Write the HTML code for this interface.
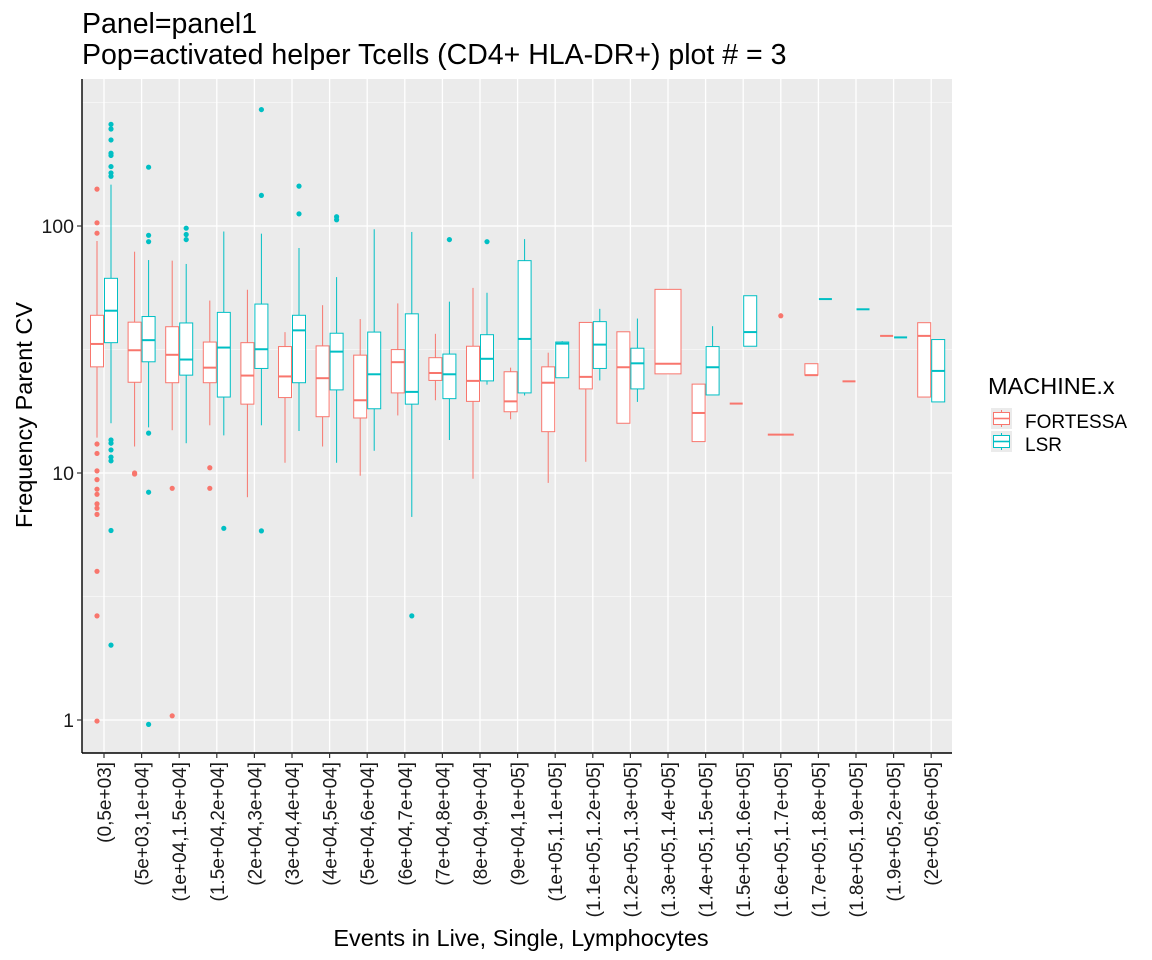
<!DOCTYPE html>
<html><head><meta charset="utf-8">
<style>
html,body{margin:0;padding:0;background:#fff;}
svg{display:block;font-family:"Liberation Sans",Arial,sans-serif;}
</style></head>
<body>
<svg id="chart" width="1152" height="960" viewBox="0 0 1152 960" xmlns="http://www.w3.org/2000/svg">
<text x="82" y="33" font-size="28.5" fill="#000">Panel=panel1</text>
<text x="82" y="64" font-size="28.5" fill="#000">Pop=activated helper Tcells (CD4+ HLA-DR+) plot # = 3</text>
<rect x="82" y="79" width="870" height="674" fill="#EBEBEB"/>
<g id="grid"></g>
<g id="marks"></g>
<line x1="82" y1="79" x2="82" y2="753" stroke="#000" stroke-width="1.4"/>
<line x1="82" y1="753" x2="952" y2="753" stroke="#000" stroke-width="1.4"/>
<g id="axes"></g>
<text transform="translate(32,415) rotate(-90)" text-anchor="middle" font-size="23.5" fill="#000">Frequency Parent CV</text>
<text x="521" y="946" text-anchor="middle" font-size="23.5" fill="#000">Events in Live, Single, Lymphocytes</text>
<g>
<text x="988" y="394" font-size="23.5" fill="#000">MACHINE.x</text>
<g>
<rect x="991" y="408" width="21" height="21" fill="#EBEBEB"/>
<line x1="1001.5" y1="410" x2="1001.5" y2="427" stroke="#F8766D" stroke-width="1"/>
<rect x="993.5" y="412.5" width="16" height="12" fill="#fff" stroke="#F8766D" stroke-width="1"/>
<line x1="993.5" y1="418.5" x2="1009.5" y2="418.5" stroke="#F8766D" stroke-width="1.6"/>
<text x="1025" y="428" font-size="19" fill="#000">FORTESSA</text>
</g>
<g>
<rect x="991" y="431" width="21" height="21" fill="#EBEBEB"/>
<line x1="1001.5" y1="433" x2="1001.5" y2="450" stroke="#00BFC4" stroke-width="1"/>
<rect x="993.5" y="435.5" width="16" height="12" fill="#fff" stroke="#00BFC4" stroke-width="1"/>
<line x1="993.5" y1="441.5" x2="1009.5" y2="441.5" stroke="#00BFC4" stroke-width="1.6"/>
<text x="1025" y="451" font-size="19" fill="#000">LSR</text>
</g>
</g>
</svg>
<script>
const categories = ["(0,5e+03]","(5e+03,1e+04]","(1e+04,1.5e+04]","(1.5e+04,2e+04]","(2e+04,3e+04]","(3e+04,4e+04]","(4e+04,5e+04]","(5e+04,6e+04]","(6e+04,7e+04]","(7e+04,8e+04]","(8e+04,9e+04]","(9e+04,1e+05]","(1e+05,1.1e+05]","(1.1e+05,1.2e+05]","(1.2e+05,1.3e+05]","(1.3e+05,1.4e+05]","(1.4e+05,1.5e+05]","(1.5e+05,1.6e+05]","(1.6e+05,1.7e+05]","(1.7e+05,1.8e+05]","(1.8e+05,1.9e+05]","(1.9e+05,2e+05]","(2e+05,6e+05]"];
const yTicks = [1, 10, 100];
const yTickLabels = ["1","10","100"];
// [whiskerLow, q1, median, q3, whiskerHigh]
const fortessaStats = [
[13.9,26.9,33.3,43.5,87],[12.8,23.3,31.4,40.8,78.7],[14.9,23.2,30.1,39.1,72.4],[15.6,23.2,26.7,33.9,49.9],
[7.98,19.0,24.8,33.7,55.2],[11.0,20.2,24.6,32.5,37.2],[12.8,16.9,24.2,32.7,47.8],[9.75,16.7,19.7,30.0,42.0],
[17.1,21.1,28.1,31.6,48.6],[19.7,23.7,25.4,29.3,36.6],[9.48,19.5,23.6,32.6,56.2],[16.5,17.7,19.5,25.7,26.7],
[9.12,14.7,23.2,26.9,30.7],[11.1,21.9,24.5,40.7,40.7],[15.9,15.9,26.8,37.3,37.3],[25.2,25.2,27.7,55.4,55.4],
[13.4,13.4,17.5,22.9,22.9],[19.1,19.1,19.1,19.1,19.1],[14.3,14.3,14.3,14.3,14.3],[24.9,24.9,24.9,27.7,27.7],
[23.5,23.5,23.5,23.5,23.5],[35.9,35.9,35.9,35.9,35.9],[20.3,20.3,35.9,40.6,40.6]];
const lsrStats = [
[15.9,33.7,45.4,61.4,147],[15.3,28.2,34.5,43,72.8],[13.2,24.9,28.8,40.5,70.2],[14.2,20.3,32.2,44.7,95],
[15.6,26.5,31.7,48.3,93.1],[14.8,23.2,37.8,43.5,81.5],[11.0,21.7,31.0,36.8,62.1],[12.3,18.2,25.1,37.2,97],
[6.64,19.0,21.3,44.1,94.6],[13.6,20.0,25.1,30.3,49.4],[22.8,23.6,29.0,36.3,53.7],[20.6,21.1,34.9,72.4,88.5],
[24.3,24.3,33.4,33.9,34.2],[23.7,26.5,33.1,41.0,46.2],[19.4,21.9,27.8,32.0,42.2],null,
[20.7,20.7,26.8,32.5,39.3],[32.6,32.6,37.2,52.2,52.2],null,[50.6,50.6,50.6,50.6,50.6],
[46.0,46.0,46.0,46.0,46.0],[35.4,35.4,35.4,35.4,35.4],[19.4,19.4,25.9,34.7,34.7]];
const fortessaOutliers = [
[141,103,93.5,13.1,12.0,10.2,9.4,8.6,8.2,7.5,7.2,6.8,4.0,2.64,0.99],[9.9,10.0],[8.67,1.04],[10.5,8.67],[],[],[],[],
[],[],[],[],[],[],[],[],[],[],[43.3],[],[],[],[]];
const lsrOutliers = [
[258,247,223,197,193,174,164,159,13.6,13.2,12.4,11.6,11.2,5.85,2.01],[173,91.7,86.4,14.5,8.36,0.96],[98,92.4,88.1],[5.97],
[296,133,5.83],[145,112],[109,106],[],[2.64],[88.1],[86.4],[],[],[],[],[],[],[],[],[],[],[],[]];

const NS="http://www.w3.org/2000/svg";
const X0=104, DX=37.6, PL=82, PR=952, PT=79, PB=753;
function xScale(i){return X0+i*DX;}
function yScale(v){return 720-247*Math.log10(v);}
function mk(tag,attrs,parent){const e=document.createElementNS(NS,tag);for(const k in attrs)e.setAttribute(k,attrs[k]);parent.appendChild(e);return e;}
const grid=document.getElementById('grid'), marks=document.getElementById('marks'), axes=document.getElementById('axes');
for(let d=-0.5; d<=2.5; d+=1){const ym=yScale(Math.pow(10,d));
  if(ym>PT&&ym<PB){const l=mk('line',{x1:PL,x2:PR,y1:ym,y2:ym,stroke:'#fff','stroke-width':0.6},grid);
  
  }}
yTicks.forEach((t,i)=>{const y=yScale(t);
  const l=mk('line',{x1:PL,x2:PR,y1:y,y2:y,stroke:'#fff','stroke-width':1.3},grid);
  
  
  const tk=mk('line',{x1:PL-5,x2:PL,y1:y,y2:y,stroke:'#333','stroke-width':1.2},axes);
  
  
  const tx=mk('text',{x:PL-8,y:y+7,'text-anchor':'end','font-size':19.5,fill:'#1a1a1a'},axes);
  tx.textContent=yTickLabels[i];
  
  });
categories.forEach((c,i)=>{const x=xScale(i);
  const l=mk('line',{x1:x,x2:x,y1:PT,y2:PB,stroke:'#fff','stroke-width':1.3},grid);
  
  
  const tk=mk('line',{x1:x,x2:x,y1:PB,y2:PB+5,stroke:'#333','stroke-width':1.2},axes);
  
  
  const tx=mk('text',{transform:`translate(${x+7},${PB+9}) rotate(-90)`,'text-anchor':'end','font-size':19,fill:'#1a1a1a'},axes);
  tx.textContent=c;
  
  });
function drawBox(s,outs,x1,x2,col,name){
  const g=mk('g',{},marks);
  
  
  const xc=(x1+x2)/2;
  mk('line',{x1:xc,x2:xc,y1:yScale(s[0]),y2:yScale(s[1]),stroke:col,'stroke-width':1},g);
  mk('line',{x1:xc,x2:xc,y1:yScale(s[3]),y2:yScale(s[4]),stroke:col,'stroke-width':1},g);
  const yt=yScale(s[3]), yb=yScale(s[1]);
  mk('rect',{x:x1,y:yt,width:x2-x1,height:Math.max(yb-yt,0),fill:'#fff',stroke:col,'stroke-width':1},g);
  const ym=yScale(s[2]);
  mk('line',{x1:x1,x2:x2,y1:ym,y2:ym,stroke:col,'stroke-width':2},g);
  outs.forEach(v=>{const p=mk('circle',{cx:xc,cy:yScale(v),r:2.6,fill:col},g);
    
    });
}
categories.forEach((c,i)=>{const x=xScale(i);const f=fortessaStats[i], l=lsrStats[i];
  if(f&&l){drawBox(f,fortessaOutliers[i],x-13.5,x-0.5,'#F8766D','box-fortessa');drawBox(l,lsrOutliers[i],x+0.5,x+13.5,'#00BFC4','box-lsr');}
  else if(f){drawBox(f,fortessaOutliers[i],x-13,x+13,'#F8766D','box-fortessa');}
  else if(l){drawBox(l,lsrOutliers[i],x-13,x+13,'#00BFC4','box-lsr');}
});
</script>
</body></html>
